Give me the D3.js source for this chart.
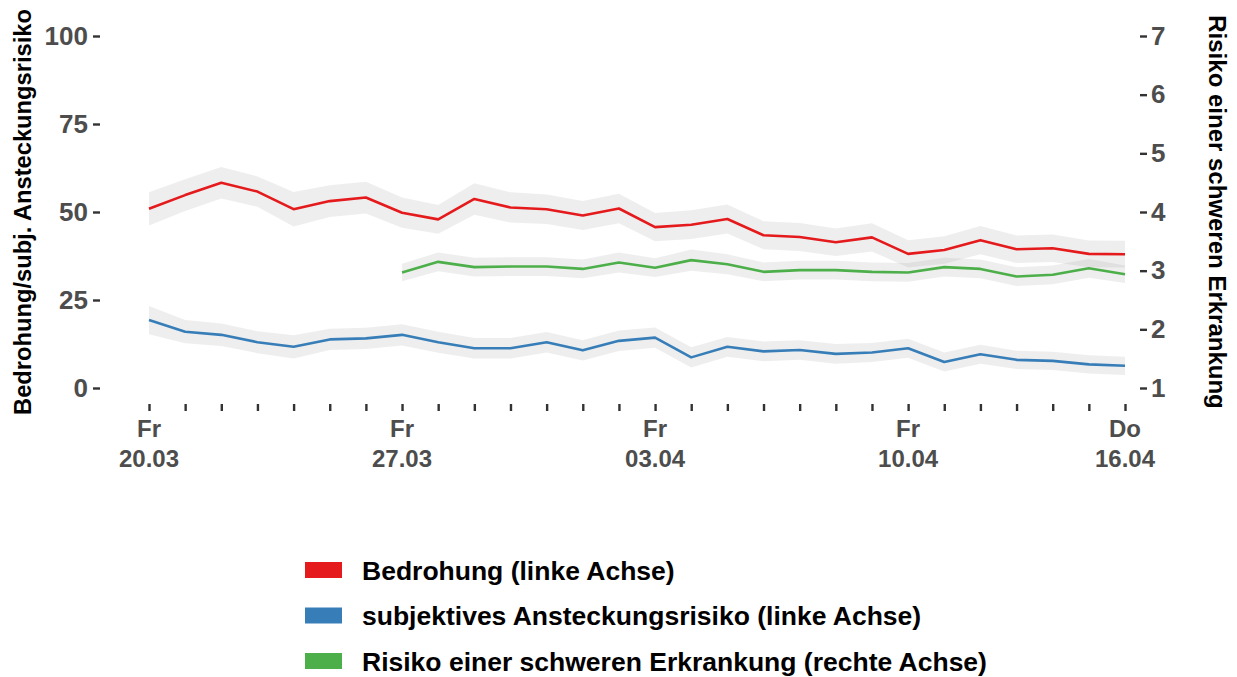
<!DOCTYPE html>
<html>
<head>
<meta charset="utf-8">
<script src="https://cdn.jsdelivr.net/npm/d3@7"></script>
<style>
  body { margin: 0; background: #fff; }
  text { font-family: "Liberation Sans", Arial, sans-serif; font-weight: bold; }
</style>
</head>
<body>
<div id="chart"></div>
<script>
// daily survey dates
const dates = ["2020-03-20","2020-03-21","2020-03-22","2020-03-23","2020-03-24","2020-03-25","2020-03-26",
  "2020-03-27","2020-03-28","2020-03-29","2020-03-30","2020-03-31","2020-04-01","2020-04-02",
  "2020-04-03","2020-04-04","2020-04-05","2020-04-06","2020-04-07","2020-04-08","2020-04-09",
  "2020-04-10","2020-04-11","2020-04-12","2020-04-13","2020-04-14","2020-04-15","2020-04-16"];

// left axis series (0-100)
const bedrohung = [50.9,54.8,58.3,55.8,50.8,53.1,54.1,49.8,47.9,53.7,51.3,50.8,49.0,51.0,
  45.7,46.4,48.0,43.4,42.9,41.4,42.8,38.1,39.2,42.0,39.4,39.7,38.1,38.0];
const bedrohungCI = [4.7,4.5,4.5,4.3,4.9,4.5,4.5,4.3,4.1,4.5,4.3,4.2,4.1,4.2,
  4.0,4.1,4.1,4.0,4.0,3.9,4.0,3.9,3.9,4.0,3.9,3.9,3.8,3.8];

const ansteckung = [19.3,16.0,15.1,13.0,11.7,13.8,14.1,15.1,13.0,11.3,11.3,13.0,10.7,13.4,
  14.3,8.7,11.7,10.4,10.8,9.7,10.1,11.3,7.4,9.6,8.0,7.7,6.7,6.3];
const ansteckungCI = [4.0,3.3,3.2,3.1,3.3,3.0,3.0,3.0,3.0,2.9,2.9,2.9,2.9,2.9,
  2.9,2.9,2.8,2.8,2.8,2.8,2.7,2.7,2.7,2.7,2.6,2.6,2.6,2.6];

// right axis series (1-7), starts 27.03
const erkrankungDates = dates.slice(7);
const erkrankung = [2.97,3.15,3.06,3.07,3.07,3.03,3.14,3.05,3.18,3.11,2.98,3.01,
  3.01,2.98,2.97,3.06,3.03,2.90,2.93,3.04,2.94];
const erkrankungCI = [0.15,0.16,0.16,0.16,0.16,0.16,0.17,0.16,0.18,0.17,0.16,0.16,
  0.16,0.16,0.16,0.16,0.16,0.16,0.16,0.16,0.15];

const leftTicks = [0, 25, 50, 75, 100];
const rightTicks = [1, 2, 3, 4, 5, 6, 7];
const labelDates = ["2020-03-20","2020-03-27","2020-04-03","2020-04-10","2020-04-16"];
const weekdays = ["So","Mo","Di","Mi","Do","Fr","Sa"];

const legendLabels = ["Bedrohung (linke Achse)",
  "subjektives Ansteckungsrisiko (linke Achse)",
  "Risiko einer schweren Erkrankung (rechte Achse)"];
const colors = ["#E41A1C", "#377EB8", "#4DAF4A"];

const width = 1237, height = 677;
const parse = d3.timeParse("%Y-%m-%d");

const svg = d3.select("#chart").append("svg")
    .attr("width", width)
    .attr("height", height);

const x = d3.scaleTime()
    .domain([parse(dates[0]), parse(dates[dates.length - 1])])
    .range([149, 1125]);
const yL = d3.scaleLinear().domain([0, 100]).range([388, 36]);
const yR = d3.scaleLinear().domain([1, 7]).range([388, 36]);

const panelLeft = 100, panelRight = 1140, panelBottom = 404;

function series(ds, vals, ci, y) {
  return ds.map((d, i) => ({ date: parse(d), v: vals[i], lo: vals[i] - ci[i], hi: vals[i] + ci[i], y: y }));
}
const all = [
  series(dates, bedrohung, bedrohungCI, yL),
  series(dates, ansteckung, ansteckungCI, yL),
  series(erkrankungDates, erkrankung, erkrankungCI, yR)
];

// bands
all.forEach(s => {
  const y = s[0].y;
  svg.append("path")
      .datum(s)
      .attr("fill", "#999")
      .attr("fill-opacity", 0.17)
      .attr("d", d3.area().x(d => x(d.date)).y0(d => y(d.lo)).y1(d => y(d.hi)));
});

// lines
all.forEach((s, k) => {
  const y = s[0].y;
  svg.append("path")
      .datum(s)
      .attr("fill", "none")
      .attr("stroke", colors[k])
      .attr("stroke-width", 2.6)
      .attr("stroke-linejoin", "round")
      .attr("d", d3.line().x(d => x(d.date)).y(d => y(d.v)));
});

function styleTicks(g) {
  g.select(".domain").remove();
  g.attr("font-size", null).attr("font-family", null);
  g.selectAll(".tick line").attr("stroke", "#333").attr("stroke-width", 2.4);
  g.selectAll(".tick text")
      .attr("fill", "#4D4D4D")
      .style("font-size", "26px");
}

// left axis
const gl = svg.append("g")
    .attr("transform", "translate(" + panelLeft + ",0)")
    .call(d3.axisLeft(yL).tickValues(leftTicks).tickSize(7).tickPadding(5));
styleTicks(gl);

// right axis
const gr = svg.append("g")
    .attr("transform", "translate(" + panelRight + ",0)")
    .call(d3.axisRight(yR).tickValues(rightTicks).tickFormat(d3.format("d")).tickSize(7).tickPadding(4));
styleTicks(gr);

// bottom axis, daily ticks
const gb = svg.append("g")
    .attr("transform", "translate(0," + panelBottom + ")")
    .call(d3.axisBottom(x).tickValues(dates.map(parse)).tickSize(7).tickFormat(""));
gb.select(".domain").remove();
gb.selectAll(".tick line").attr("stroke", "#333").attr("stroke-width", 2.4);

const fmt = d3.timeFormat("%d.%m");
const lab = svg.append("g").selectAll("text")
    .data(labelDates.map(parse))
    .enter().append("text")
    .attr("text-anchor", "middle")
    .attr("fill", "#4D4D4D")
    .style("font-size", "24px");
lab.append("tspan").attr("x", d => x(d)).attr("y", 437).text(d => weekdays[d.getDay()]);
lab.append("tspan").attr("x", d => x(d)).attr("y", 467).text(d => fmt(d));

// axis titles
svg.append("text")
    .attr("transform", "translate(31,212) rotate(-90)")
    .attr("text-anchor", "middle")
    .style("font-size", "23.7px")
    .text("Bedrohung/subj. Ansteckungsrisiko");
svg.append("text")
    .attr("transform", "translate(1209,212) rotate(90)")
    .attr("text-anchor", "middle")
    .style("font-size", "24px")
    .text("Risiko einer schweren Erkrankung");

// legend
const leg = svg.append("g").selectAll("g")
    .data(legendLabels)
    .enter().append("g")
    .attr("transform", (d, i) => "translate(305," + (570 + i * 45.5) + ")");
leg.append("rect")
    .attr("x", 0).attr("y", -8)
    .attr("width", 37).attr("height", 16)
    .attr("fill", (d, i) => colors[i]);
leg.append("text")
    .attr("x", 57).attr("dy", "0.36em")
    .style("font-size", "26.5px")
    .attr("fill", "#000")
    .text(d => d);
</script>
</body>
</html>
